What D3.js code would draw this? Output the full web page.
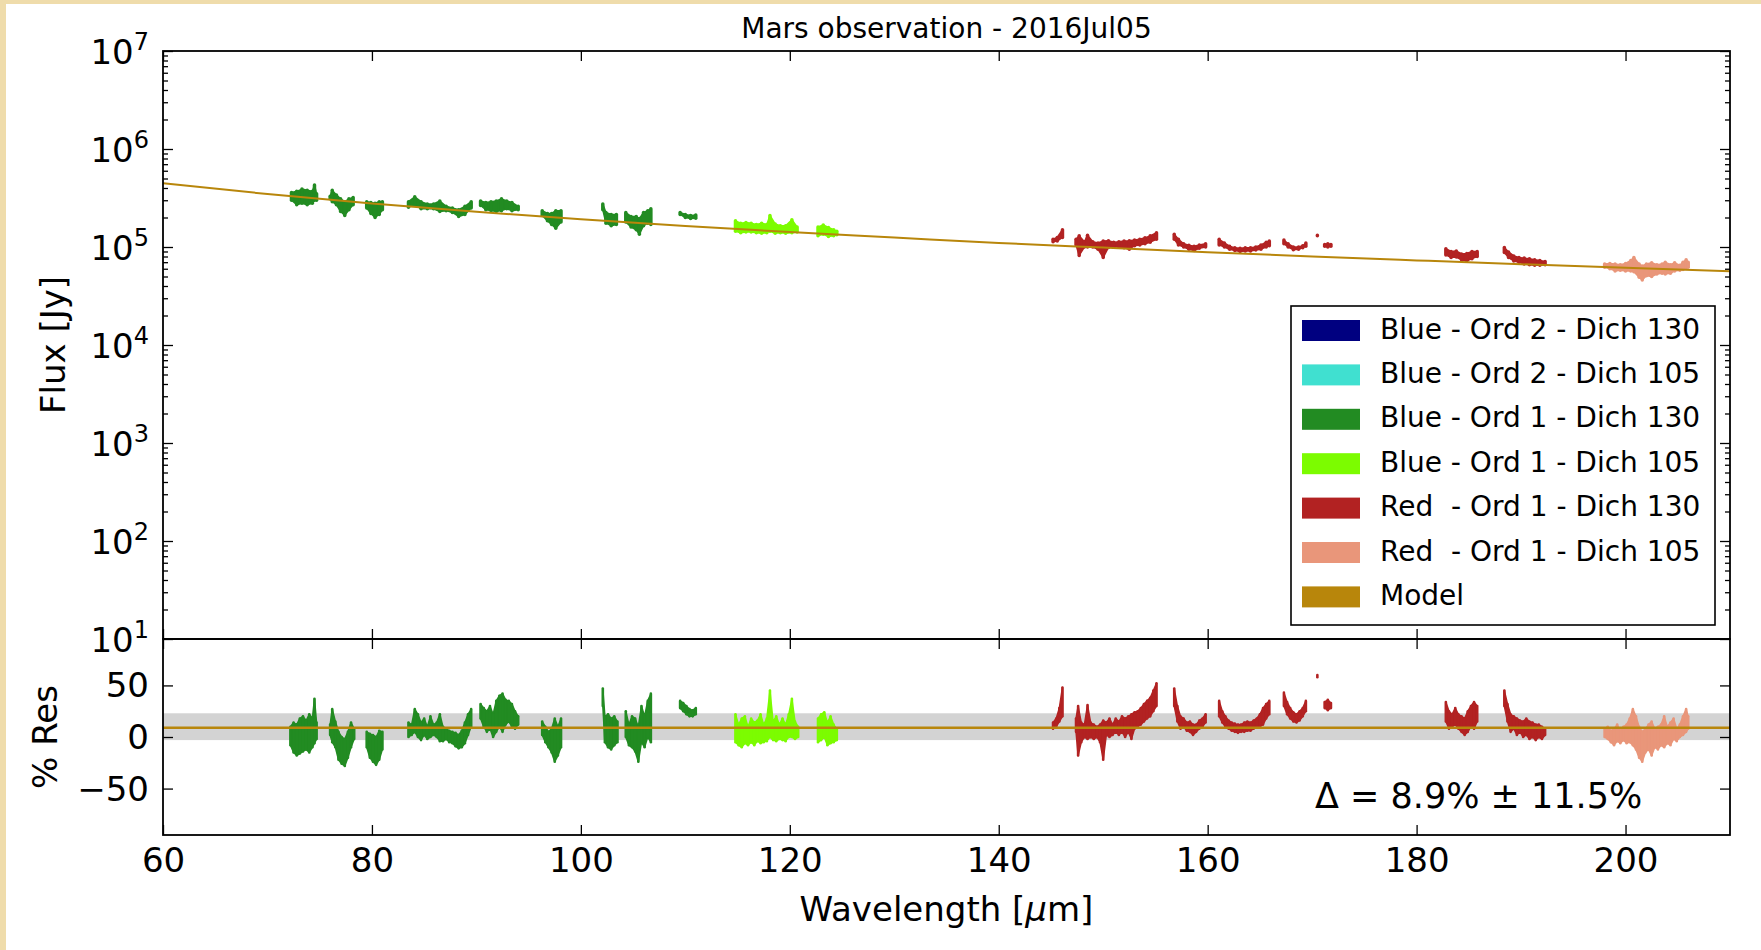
<!DOCTYPE html>
<html><head><meta charset="utf-8">
<script src="https://cdn.jsdelivr.net/npm/d3@7"></script>
<style>
body{margin:0;background:#fff;}
svg text{font-family:"DejaVu Sans",sans-serif;fill:#000;}
</style>
</head><body>
<svg id="chart" width="1761" height="950"></svg>
<script>
// ---------------- DATA ----------------
const titleText = "Mars observation - 2016Jul05";
const xTicks = [60, 80, 100, 120, 140, 160, 180, 200];
const yTopExponents = [1, 2, 3, 4, 5, 6, 7];
const yResTicks = [-50, 0, 50];

const seriesNames = [
  "Blue - Ord 2 - Dich 130",
  "Blue - Ord 2 - Dich 105",
  "Blue - Ord 1 - Dich 130",
  "Blue - Ord 1 - Dich 105",
  "Red  - Ord 1 - Dich 130",
  "Red  - Ord 1 - Dich 105",
  "Model"
];

// model spectrum (wavelength in micron, flux in Jy)
const modelWave = [60, 70, 80, 90, 100, 110, 120, 130, 140, 150, 160, 170, 180, 190, 200, 210];
const modelFlux = [4.47e5, 3.47e5, 2.78e5, 2.29e5, 1.92e5, 1.64e5, 1.42e5, 1.25e5, 1.10e5, 9.86e4, 8.86e4, 8.01e4, 7.30e4, 6.67e4, 6.13e4, 5.65e4];

// residual statistics
const resMean = 8.9;
const resStd = 11.5;
const resBand = [-3, 23];

// flux samples: [wavelength, flux low, flux high]
const fluxB2D130 = [];
const fluxB2D105 = [];
const fluxB1D130 = [
  [72.3,3.0e5,3.6e5],[72.8,2.7e5,3.7e5],[73.3,2.8e5,3.9e5],[73.8,2.7e5,3.8e5],[74.3,2.8e5,3.7e5],[74.5,3.0e5,4.3e5],[74.7,3.0e5,3.5e5],
  [76.0,3.1e5,3.3e5],[76.2,2.9e5,3.8e5],[76.6,2.7e5,3.4e5],[77.0,2.3e5,3.1e5],[77.4,2.1e5,2.9e5],[77.8,2.4e5,3.1e5],[78.2,2.7e5,3.2e5],
  [79.5,2.5e5,2.9e5],[79.9,2.2e5,2.85e5],[80.3,2.0e5,2.8e5],[80.7,2.15e5,2.9e5],[81.0,2.4e5,2.9e5],
  [83.5,2.55e5,2.9e5],[84.1,2.7e5,3.25e5],[84.7,2.45e5,2.9e5],[85.3,2.45e5,2.75e5],[85.9,2.45e5,2.75e5],[86.5,2.3e5,2.95e5],[87.1,2.35e5,2.6e5],[87.7,2.25e5,2.5e5],[88.3,2.05e5,2.4e5],[88.9,2.15e5,2.6e5],[89.5,2.5e5,2.9e5],
  [90.4,2.65e5,2.95e5],[90.9,2.4e5,2.85e5],[91.4,2.35e5,2.9e5],[91.9,2.3e5,2.95e5],[92.4,2.35e5,3.1e5],[92.9,2.45e5,2.95e5],[93.4,2.35e5,2.85e5],[94.0,2.4e5,2.6e5],
  [96.3,2.1e5,2.35e5],[96.8,1.85e5,2.2e5],[97.2,1.7e5,2.2e5],[97.6,1.55e5,2.35e5],[98.1,1.8e5,2.35e5],
  [102.1,2.4e5,2.75e5],[102.4,1.75e5,2.25e5],[102.9,1.65e5,2.15e5],[103.4,1.7e5,2.15e5],
  [104.3,1.8e5,2.25e5],[104.8,1.6e5,2.05e5],[105.3,1.5e5,2.05e5],[105.6,1.35e5,1.95e5],[106.0,1.65e5,2.25e5],[106.4,1.75e5,2.35e5],[106.7,1.7e5,2.45e5],
  [109.5,2.15e5,2.25e5],[110.0,2.0e5,2.15e5],[110.5,1.95e5,2.1e5],[111.0,1.97e5,2.12e5]
];
const fluxB1D105 = [
  [114.8,1.45e5,1.85e5],[115.3,1.4e5,1.75e5],[115.8,1.42e5,1.78e5],[116.3,1.42e5,1.75e5],[116.8,1.4e5,1.7e5],[117.3,1.38e5,1.75e5],[117.8,1.4e5,1.7e5],[118.1,1.45e5,2.1e5],[118.6,1.38e5,1.72e5],[119.1,1.4e5,1.65e5],[119.6,1.38e5,1.65e5],[120.2,1.4e5,1.9e5],[120.7,1.42e5,1.6e5],
  [122.7,1.3e5,1.6e5],[123.2,1.35e5,1.68e5],[123.7,1.28e5,1.58e5],[124.2,1.3e5,1.5e5],[124.5,1.33e5,1.45e5]
];
const fluxR1D130 = [
  [145.2,1.13e5,1.2e5],[145.6,1.15e5,1.25e5],[146.1,1.25e5,1.5e5],
  [147.4,1.05e5,1.2e5],[147.7,8.2e4,1.3e5],[148.2,1.0e5,1.13e5],[148.5,1.0e5,1.32e5],[149.0,1.0e5,1.13e5],[149.5,9.5e4,1.1e5],[150.0,7.8e4,1.15e5],[150.5,9.9e4,1.16e5],[151.0,1.0e5,1.12e5],[151.5,1.0e5,1.13e5],[152.0,9.8e4,1.15e5],[152.5,9.5e4,1.16e5],[153.0,1.03e5,1.18e5],[153.5,1.05e5,1.2e5],[154.0,1.08e5,1.24e5],[154.5,1.12e5,1.3e5],[155.1,1.2e5,1.4e5],
  [156.8,1.2e5,1.35e5],[157.2,1.05e5,1.2e5],[157.7,1.0e5,1.08e5],[158.2,9.5e4,1.04e5],[158.7,9.2e4,1.02e5],[159.2,9.7e4,1.05e5],[159.8,1.0e5,1.08e5],
  [161.1,1.05e5,1.2e5],[161.6,1.0e5,1.1e5],[162.1,9.5e4,1.02e5],[162.6,9.2e4,9.8e4],[163.1,9.0e4,9.7e4],[163.6,9.1e4,9.8e4],[164.1,9.1e4,9.8e4],[164.6,9.3e4,1.0e5],[165.1,9.5e4,1.05e5],[165.6,1.0e5,1.12e5],[165.9,1.03e5,1.15e5],
  [167.3,1.08e5,1.18e5],[167.7,1.0e5,1.08e5],[168.2,9.4e4,1.0e5],[168.7,9.5e4,1.0e5],[169.1,9.8e4,1.03e5],[169.4,1.02e5,1.1e5],
  [170.5,1.3e5,1.32e5],[171.2,1.02e5,1.06e5],[171.5,1.0e5,1.08e5],[171.8,1.02e5,1.06e5],
  [182.8,8.3e4,9.6e4],[183.3,7.8e4,9.0e4],[183.8,7.9e4,9.1e4],[184.3,7.4e4,8.5e4],[184.8,7.2e4,8.6e4],[185.3,7.6e4,9.0e4],[185.8,8.0e4,9.0e4],
  [188.4,8.8e4,9.9e4],[188.8,7.8e4,8.9e4],[189.3,7.2e4,8.1e4],[189.8,7.0e4,7.8e4],[190.3,6.7e4,7.7e4],[190.8,6.6e4,7.6e4],[191.3,6.5e4,7.4e4],[191.8,6.5e4,7.3e4],[192.3,6.6e4,7.1e4]
];
const fluxR1D105 = [
  [198.0,6.2e4,6.7e4],[198.5,6.0e4,6.8e4],[199.0,5.7e4,6.7e4],[199.5,5.8e4,6.6e4],[200.0,5.7e4,6.8e4],[200.5,5.7e4,7.3e4],[200.8,5.6e4,7.8e4],[201.3,4.9e4,6.7e4],[201.6,4.6e4,6.4e4],[202.0,5.1e4,6.7e4],[202.5,5.0e4,6.9e4],[203.0,5.3e4,6.6e4],[203.5,5.4e4,6.7e4],[203.8,5.3e4,7.0e4],[204.3,5.4e4,6.6e4],[204.7,5.7e4,6.9e4],[205.2,5.8e4,6.5e4],[205.5,5.9e4,7.0e4],[205.8,6.1e4,7.4e4],[206.0,6.2e4,7.0e4]
];

// residual samples: [wavelength, residual low %, residual high %]
const resB2D130 = [];
const resB2D105 = [];
const resB1D130 = [
  [72.2,-8,10],[72.5,-15,14],[72.8,-18,12],[73.1,-16,18],[73.4,-14,20],[73.7,-12,16],[74.0,-15,22],[74.3,-10,18],[74.5,-6,37],[74.7,-2,14],
  [76.0,2,12],[76.2,-5,27],[76.5,-10,15],[76.8,-22,5],[77.1,-26,0],[77.4,-28,-2],[77.7,-20,5],[78.0,-10,14],[78.3,-2,8],
  [79.5,-10,5],[79.8,-20,3],[80.1,-24,2],[80.4,-27,0],[80.7,-22,6],[81.0,-12,5],
  [83.5,0,14],[83.8,2,12],[84.1,5,27],[84.4,0,22],[84.7,-3,14],[85.0,2,18],[85.3,-2,10],[85.6,0,20],[85.9,2,12],[86.2,0,14],[86.5,-4,22],[86.8,-4,10],[87.1,-2,8],[87.4,-5,6],[87.7,-6,5],[88.0,-9,4],[88.3,-11,2],[88.6,-10,6],[88.9,-6,14],[89.2,2,22],[89.5,10,27],
  [90.4,18,32],[90.7,10,28],[91.0,5,25],[91.3,8,30],[91.6,0,22],[91.9,5,35],[92.2,10,40],[92.5,5,42],[92.8,12,36],[93.1,15,35],[93.4,10,32],[93.7,8,25],[94.0,12,20],
  [96.3,2,15],[96.6,-5,10],[96.9,-10,5],[97.2,-15,8],[97.5,-24,18],[97.8,-18,10],[98.1,-10,18],
  [102.1,30,47],[102.3,-5,20],[102.6,-10,22],[102.9,-12,18],[103.2,-8,20],[103.5,-5,15],
  [104.3,0,25],[104.6,-8,12],[104.9,-10,20],[105.2,-14,18],[105.5,-24,10],[105.8,-5,30],[106.1,-10,20],[106.4,0,35],[106.7,-5,42],
  [109.5,28,35],[109.8,25,33],[110.1,22,30],[110.4,20,27],[110.7,20,26],[111.0,22,28]
];
const resB1D105 = [
  [114.8,-5,22],[115.1,-8,12],[115.4,-10,18],[115.7,-6,20],[116.0,-8,10],[116.3,-5,18],[116.6,-8,14],[116.9,-4,16],[117.2,-6,22],[117.5,-5,12],[117.8,-4,18],[118.1,0,45],[118.4,-3,15],[118.7,-4,20],[119.0,-2,12],[119.3,-3,18],[119.6,-4,12],[119.9,0,22],[120.2,0,37],[120.5,-2,15],[120.8,0,10],
  [122.7,-5,18],[123.0,-3,22],[123.3,0,24],[123.6,-8,14],[123.9,-6,20],[124.2,-5,12],[124.5,-3,8]
];
const resR1D130 = [
  [145.2,8,14],[145.5,10,18],[145.8,15,28],[146.1,20,48],
  [147.4,5,18],[147.6,-18,30],[147.9,-5,14],[148.2,0,12],[148.5,-2,31],[148.8,0,14],[149.1,-2,12],[149.4,0,10],[149.7,-5,12],[150.0,-22,16],[150.3,2,14],[150.6,0,18],[150.9,2,12],[151.2,5,18],[151.5,2,15],[151.8,5,20],[152.1,0,18],[152.4,5,20],[152.7,-2,22],[153.0,8,24],[153.3,10,25],[153.6,12,28],[153.9,15,32],[154.2,18,35],[154.5,20,38],[154.8,25,45],[155.1,30,52],
  [156.8,30,47],[157.1,15,30],[157.4,8,20],[157.7,10,18],[158.0,6,14],[158.3,5,15],[158.6,2,12],[158.9,5,12],[159.2,8,16],[159.5,10,18],[159.8,14,22],
  [161.1,20,35],[161.4,14,25],[161.7,10,20],[162.0,8,16],[162.3,6,14],[162.6,5,13],[162.9,4,12],[163.2,5,12],[163.5,5,14],[163.8,6,15],[164.1,6,14],[164.4,8,16],[164.7,10,18],[165.0,10,22],[165.3,12,28],[165.6,18,32],[165.9,22,35],
  [167.3,30,43],[167.6,22,34],[167.9,18,28],[168.2,15,24],[168.5,14,22],[168.8,16,25],[169.1,20,28],[169.4,25,35],
  [170.5,58,60],[171.2,28,34],[171.5,26,36],[171.8,28,33],
  [182.8,15,34],[183.1,8,25],[183.4,10,22],[183.7,12,28],[184.0,8,22],[184.3,5,20],[184.6,2,18],[184.9,5,25],[185.2,10,30],[185.5,8,34],[185.8,15,30],
  [188.4,30,45],[188.7,15,32],[189.0,5,22],[189.3,8,20],[189.6,2,18],[189.9,5,16],[190.2,0,15],[190.5,2,18],[190.8,-2,15],[191.1,0,14],[191.4,-3,12],[191.7,0,12],[192.0,-2,10],[192.3,2,8]
];
const resR1D105 = [
  [198.0,0,8],[198.3,-2,10],[198.6,-5,6],[198.9,-8,8],[199.2,-4,12],[199.5,-6,6],[199.8,-3,10],[200.1,-6,12],[200.4,-5,18],[200.7,-8,27],[201.0,-12,20],[201.3,-20,10],[201.6,-24,5],[201.9,-15,8],[202.2,-12,12],[202.5,-18,15],[202.8,-10,8],[203.1,-12,10],[203.4,-8,12],[203.7,-10,20],[204.0,-6,10],[204.3,-8,14],[204.6,-2,18],[204.9,-4,8],[205.2,0,12],[205.5,2,20],[205.8,5,27],[206.0,8,20]
];

// ---------------- STYLE / LAYOUT ----------------
const colors = ["#000080", "#40E0D0", "#228B22", "#7CFC00", "#B22222", "#E9967A", "#B8860B"];
const W = 1761, H = 950;
const L = 163, R = 1730, T = 51, MID = 639, B = 835;

const svg = d3.select("#chart");
svg.append("rect").attr("x",0).attr("y",0).attr("width",W).attr("height",H).attr("fill","#fff");
svg.append("rect").attr("x",0).attr("y",0).attr("width",6).attr("height",H).attr("fill","#efdcab");
svg.append("rect").attr("x",0).attr("y",0).attr("width",W).attr("height",4).attr("fill","#efdcab");

const x = d3.scaleLinear().domain([60, 210]).range([L, R]);
const yTop = d3.scaleLog().domain([10, 1e7]).range([MID, T]);
const yRes = d3.scaleLinear().domain([-95, 95]).range([B, MID]);

// split a series into contiguous runs (gap larger than maxGap micron)
function runs(s, maxGap) {
  const out = [];
  let cur = [];
  s.forEach((d, i) => {
    if (i > 0 && d[0] - s[i-1][0] > maxGap) { out.push(cur); cur = []; }
    cur.push(d);
  });
  if (cur.length) out.push(cur);
  return out;
}
function drawSeries(g, s, color, yScale, barW, maxGap) {
  const area = d3.area().x(d => x(d[0])).y0(d => yScale(d[1])).y1(d => yScale(d[2]));
  const sg = g.append("g");
  sg.selectAll("path").data(runs(s, maxGap).filter(r => r.length > 1)).join("path")
    .attr("d", area).attr("fill", color).attr("stroke", color).attr("stroke-width", 1.5)
    .attr("stroke-linejoin","round");
  sg.append("g").selectAll("line").data(s).join("line")
    .attr("x1", d => x(d[0])).attr("x2", d => x(d[0]))
    .attr("y1", d => yScale(d[1])).attr("y2", d => yScale(d[2]))
    .attr("stroke", color).attr("stroke-width", barW).attr("stroke-linecap","round");
}

// title
svg.append("text").attr("x", (L+R)/2).attr("y", 38).attr("text-anchor","middle")
  .attr("font-size", 28).text(titleText);

// ---------- top panel ----------
const topG = svg.append("g");
const fluxSeries = [fluxB2D130, fluxB2D105, fluxB1D130, fluxB1D105, fluxR1D130, fluxR1D105];
fluxSeries.forEach((s, i) => drawSeries(topG, s, colors[i], yTop, 3.5, 0.65));
const modelLine = d3.line().x((d,i) => x(modelWave[i])).y(d => yTop(d)).curve(d3.curveMonotoneX);
topG.append("path").attr("d", modelLine(modelFlux)).attr("fill","none")
  .attr("stroke", colors[6]).attr("stroke-width", 2);

// ---------- residual panel ----------
const botG = svg.append("g");
botG.append("rect").attr("x", L).attr("width", R-L)
  .attr("y", yRes(resBand[1])).attr("height", yRes(resBand[0]) - yRes(resBand[1]))
  .attr("fill", "#d3d3d3");
const resSeries = [resB2D130, resB2D105, resB1D130, resB1D105, resR1D130, resR1D105];
resSeries.forEach((s, i) => drawSeries(botG, s, colors[i], yRes, 2.6, 0.5));
botG.append("line").attr("x1", L).attr("x2", R).attr("y1", yRes(resMean)).attr("y2", yRes(resMean))
  .attr("stroke", colors[6]).attr("stroke-width", 2.6);

// ---------- axes ----------
const MAJ = 10, MIN = 5;
function styleAxis(g){
  g.select(".domain").remove();
  g.selectAll(".tick line").attr("stroke","#000").attr("stroke-width",1.3);
  g.selectAll(".tick text").attr("font-family","DejaVu Sans").attr("font-size",34).attr("fill","#000");
}
svg.append("g").attr("transform",`translate(0,${T})`)
  .call(d3.axisTop(x).tickValues(xTicks).tickSizeInner(-MAJ).tickSizeOuter(0).tickFormat(""))
  .call(styleAxis);
svg.append("g").attr("transform",`translate(0,${MID})`)
  .call(d3.axisBottom(x).tickValues(xTicks).tickSizeInner(-MAJ).tickSizeOuter(0).tickFormat(""))
  .call(styleAxis);
svg.append("g").attr("transform",`translate(0,${MID})`)
  .call(d3.axisTop(x).tickValues(xTicks).tickSizeInner(-MAJ).tickSizeOuter(0).tickFormat(""))
  .call(styleAxis);
const xb = svg.append("g").attr("transform",`translate(0,${B})`)
  .call(d3.axisBottom(x).tickValues(xTicks).tickSizeInner(-MAJ).tickSizeOuter(0).tickFormat(d3.format("d")))
  .call(styleAxis);
xb.selectAll(".tick text").attr("y", 37).attr("dy", null);

const majors = yTopExponents.map(e => Math.pow(10, e));
const minors = [];
yTopExponents.slice(0, -1).forEach(e => { for (let k = 2; k <= 9; k++) minors.push(k * Math.pow(10, e)); });
[["L", L], ["R", R]].forEach(([side, pos]) => {
  const mk = side === "L" ? d3.axisLeft : d3.axisRight;
  svg.append("g").attr("transform",`translate(${pos},0)`)
    .call(mk(yTop).tickValues(majors).tickSizeInner(-MAJ).tickSizeOuter(0).tickFormat(""))
    .call(styleAxis);
  svg.append("g").attr("transform",`translate(${pos},0)`)
    .call(mk(yTop).tickValues(minors).tickSizeInner(-MIN).tickSizeOuter(0).tickFormat(""))
    .call(styleAxis);
  svg.append("g").attr("transform",`translate(${pos},0)`)
    .call(mk(yRes).tickValues(yResTicks).tickSizeInner(-MAJ).tickSizeOuter(0).tickFormat(""))
    .call(styleAxis);
});
const ylab = svg.append("g");
yTopExponents.forEach(e => {
  const t = ylab.append("text").attr("x", 149).attr("y", yTop(Math.pow(10, e)) + 13)
    .attr("text-anchor","end").attr("font-size", 34);
  t.append("tspan").text("10");
  t.append("tspan").attr("dy", -14).attr("font-size", 24).text(String(e));
});
yResTicks.forEach(v => {
  ylab.append("text").attr("x", 149).attr("y", yRes(v) + 12).attr("text-anchor","end")
    .attr("font-size", 34).text(v < 0 ? "\u2212" + Math.abs(v) : String(v));
});

// spines
svg.append("rect").attr("x", L).attr("y", T).attr("width", R-L).attr("height", MID-T)
  .attr("fill","none").attr("stroke","#000").attr("stroke-width",1.8);
svg.append("rect").attr("x", L).attr("y", MID).attr("width", R-L).attr("height", B-MID)
  .attr("fill","none").attr("stroke","#000").attr("stroke-width",1.8);

// axis labels
svg.append("text").attr("transform","translate(65,345) rotate(-90)").attr("text-anchor","middle")
  .attr("font-size",34).text("Flux [Jy]");
svg.append("text").attr("transform","translate(57,737) rotate(-90)").attr("text-anchor","middle")
  .attr("font-size",34).text("% Res");
const xl = svg.append("text").attr("x",(L+R)/2).attr("y",921).attr("text-anchor","middle").attr("font-size",34);
xl.append("tspan").text("Wavelength [");
xl.append("tspan").attr("font-style","italic").text("\u03bc");
xl.append("tspan").text("m]");

// delta annotation
svg.append("text").attr("x", 1315).attr("y", 808).attr("font-size", 35)
  .text("\u0394 = " + resMean.toFixed(1) + "% \u00b1 " + resStd.toFixed(1) + "%");

// legend
const lg = svg.append("g");
lg.append("rect").attr("x",1291).attr("y",306).attr("width",424).attr("height",319)
  .attr("fill","#fff").attr("stroke","#000").attr("stroke-width",1.6);
seriesNames.forEach((n, i) => {
  lg.append("rect").attr("x",1302).attr("y",320 + i*44.4).attr("width",58).attr("height",21)
    .attr("fill", colors[i]);
  lg.append("text").attr("x",1380).attr("y",338.5 + i*44.4).attr("font-size",28)
    .attr("xml:space","preserve").style("white-space","pre").text(n);
});
</script>
</body></html>
